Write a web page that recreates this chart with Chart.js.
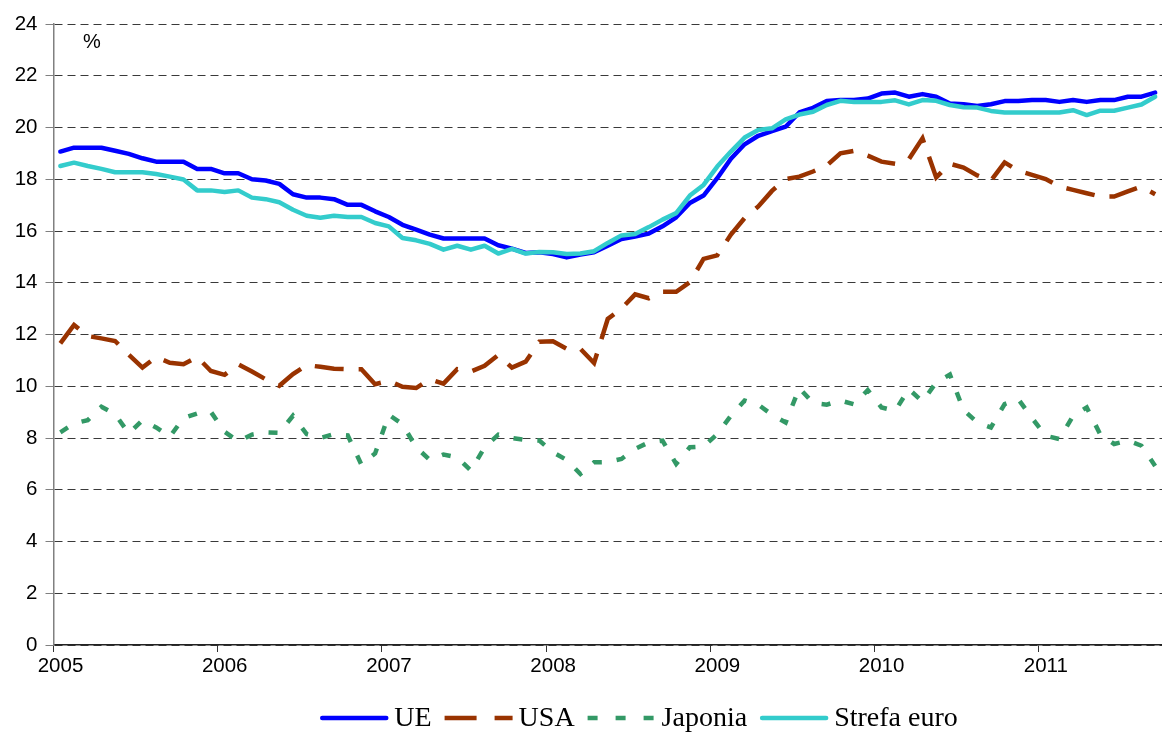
<!DOCTYPE html>
<html><head><meta charset="utf-8">
<script src="https://cdn.jsdelivr.net/npm/chart.js@4/dist/chart.umd.min.js"></script>
<style>html,body{margin:0;padding:0;background:#fff}canvas{display:block}</style>
</head><body>
<canvas id="c" width="1162" height="733"></canvas>
<script>
// Monthly data, Jan 2005 - Sep 2011 (81 months)
const yearLabels = ['2005','2006','2007','2008','2009','2010','2011'];
const yearTickMonths = [0, 12, 24, 36, 48, 60, 72];
const monthCount = 81;
const yMin = 0, yMax = 24, yStep = 2;
const unitLabel = '%';
const seriesNames = ['UE', 'USA', 'Japonia', 'Strefa euro'];

const ue = [19.07,19.22,19.22,19.22,19.10,18.98,18.81,18.68,18.68,18.68,18.40,18.40,
  18.23,18.23,18.00,17.95,17.82,17.42,17.29,17.29,17.23,17.01,17.01,16.76,
  16.54,16.24,16.05,15.86,15.71,15.71,15.71,15.71,15.45,15.32,15.15,15.18,
  15.11,14.98,15.09,15.18,15.43,15.69,15.79,15.90,16.18,16.53,17.08,17.37,
  18.04,18.79,19.35,19.68,19.86,20.03,20.58,20.76,21.02,21.06,21.06,21.12,
  21.31,21.35,21.19,21.29,21.19,20.93,20.90,20.83,20.90,21.02,21.02,21.06,
  21.06,20.99,21.06,20.99,21.06,21.06,21.19,21.19,21.35];

const usa = [11.66,12.37,11.94,11.85,11.75,11.22,10.72,11.13,10.91,10.85,11.13,10.59,
  10.44,10.85,10.57,10.27,10.02,10.47,10.82,10.75,10.68,10.66,10.66,10.08,
  10.21,9.98,9.93,10.27,10.10,10.66,10.57,10.79,11.21,10.72,10.95,11.72,
  11.74,11.45,11.45,10.90,12.60,13.00,13.55,13.40,13.65,13.65,14.02,14.92,
  15.06,15.86,16.50,16.95,17.55,18.01,18.10,18.30,18.53,19.00,19.10,18.91,
  18.68,18.60,18.77,19.58,18.07,18.60,18.45,18.15,17.95,18.65,18.33,18.17,
  18.01,17.72,17.59,17.46,17.33,17.33,17.53,17.72,17.42];

const japonia = [8.22,8.56,8.69,9.21,8.92,8.18,8.69,8.41,8.05,8.77,8.95,9.01,
  8.24,7.87,8.13,8.22,8.20,8.86,8.15,8.00,8.15,8.10,6.97,7.40,
  8.90,8.53,7.64,7.15,7.36,7.25,6.74,7.64,8.13,8.00,7.92,7.90,
  7.45,7.15,6.61,7.06,7.07,7.19,7.58,7.83,7.90,7.00,7.64,7.67,
  8.15,8.86,9.45,9.29,8.90,8.60,9.93,9.35,9.29,9.45,9.30,9.85,
  9.18,9.05,9.89,9.41,10.15,10.45,9.08,8.60,8.41,9.31,9.50,8.77,
  8.09,7.96,8.85,9.18,8.13,7.77,7.90,7.70,6.92];

const strefaEuro = [18.51,18.64,18.51,18.40,18.27,18.27,18.27,18.20,18.10,17.99,17.57,17.57,
  17.51,17.57,17.29,17.23,17.11,16.82,16.59,16.51,16.59,16.54,16.54,16.31,
  16.18,15.73,15.64,15.50,15.28,15.43,15.28,15.43,15.13,15.31,15.13,15.19,
  15.18,15.11,15.13,15.22,15.54,15.83,15.88,16.15,16.44,16.69,17.37,17.78,
  18.49,19.07,19.61,19.90,19.97,20.31,20.50,20.61,20.87,21.03,20.99,20.99,
  20.99,21.05,20.89,21.06,21.03,20.87,20.78,20.77,20.64,20.58,20.58,20.58,
  20.58,20.58,20.67,20.48,20.65,20.65,20.77,20.89,21.19];

// points sit in the middle of each month
const toPoints = arr => arr.map((v, i) => ({x: i + 0.5, y: v}));

const legendPlugin = {
  id: 'customLegend',
  afterDraw(chart) {
    const ctx = chart.ctx;
    ctx.save();
    // unit label
    ctx.font = '20px "Liberation Sans", Arial, sans-serif';
    ctx.fillStyle = '#000';
    ctx.textBaseline = 'middle';
    ctx.textAlign = 'left';
    ctx.fillText(unitLabel, 83, 42);

    ctx.font = '28px "Liberation Serif", "Times New Roman", serif';
    const sampleW = 68, gapText = 6, gapItem = 13;
    const items = chart.data.datasets.map(ds => ({ds, w: ctx.measureText(ds.label).width}));
    let total = 0;
    items.forEach((it, k) => { total += sampleW + gapText + it.w + (k < items.length - 1 ? gapItem : 0); });
    let x = 639 - total / 2;
    const y = 718;
    items.forEach(it => {
      const ds = it.ds;
      const dashed = ds.borderDash && ds.borderDash.length;
      ctx.beginPath();
      ctx.strokeStyle = ds.borderColor;
      ctx.lineWidth = ds.borderWidth;
      ctx.lineCap = dashed ? 'butt' : 'round';
      ctx.setLineDash(ds.legendDash || []);
      ctx.moveTo(x + (dashed ? 0 : 2), y);
      ctx.lineTo(x + sampleW - (dashed ? 0 : 2), y);
      ctx.stroke();
      ctx.setLineDash([]);
      ctx.fillStyle = '#000';
      ctx.fillText(ds.label, x + sampleW + gapText, y + 1);
      x += sampleW + gapText + it.w + gapItem;
    });
    ctx.restore();
  }
};

new Chart(document.getElementById('c'), {
  type: 'line',
  data: {
    datasets: [
      {label: seriesNames[0], data: toPoints(ue), borderColor: '#0000FF', borderWidth: 4.5,
       borderJoinStyle: 'round', borderCapStyle: 'round', order: 2},
      {label: seriesNames[1], data: toPoints(usa), borderColor: '#993300', borderWidth: 4.5,
       borderDash: [29, 15], legendDash: [32, 18], borderCapStyle: 'butt', borderJoinStyle: 'miter', order: 3},
      {label: seriesNames[2], data: toPoints(japonia), borderColor: '#339966', borderWidth: 4.5,
       borderDash: [9, 15], legendDash: [10, 18], borderCapStyle: 'butt', borderJoinStyle: 'miter', order: 4},
      {label: seriesNames[3], data: toPoints(strefaEuro), borderColor: '#33CCCC', borderWidth: 4.5,
       borderJoinStyle: 'round', borderCapStyle: 'round', order: 1}
    ]
  },
  options: {
    responsive: false,
    animation: false,
    devicePixelRatio: 1,
    elements: {point: {radius: 0}, line: {tension: 0}},
    layout: {padding: {left: 0, right: 0, top: 24, bottom: 60}},
    plugins: {legend: {display: false}, tooltip: {enabled: false}},
    scales: {
      x: {
        type: 'linear', min: 0, max: monthCount,
        afterBuildTicks: axis => { axis.ticks = yearTickMonths.map(v => ({value: v})); },
        afterFit: s => { s.height = 28; },
        ticks: {
          callback: (v) => yearLabels[yearTickMonths.indexOf(v)],
          color: '#000', font: {family: '"Liberation Sans", Arial, sans-serif', size: 20.5},
          padding: 2, labelOffset: 7, maxRotation: 0, autoSkip: false
        },
        grid: {drawOnChartArea: false, drawTicks: true, tickLength: 7, tickColor: '#333', tickWidth: 1},
        border: {display: true, color: '#222', width: 1.5}
      },
      y: {
        type: 'linear', min: yMin, max: yMax,
        afterFit: s => { s.width = 53.5; },
        ticks: {stepSize: yStep, color: '#000', padding: 8,
          font: {family: '"Liberation Sans", Arial, sans-serif', size: 20.5}},
        grid: {color: '#3a3a3a', lineWidth: 1, tickLength: 8, tickColor: '#808080', tickBorderDash: [], tickWidth: 1},
        border: {display: true, color: '#808080', width: 1.5, dash: [8, 5]}
      }
    }
  },
  plugins: [legendPlugin]
});
</script>
</body></html>
